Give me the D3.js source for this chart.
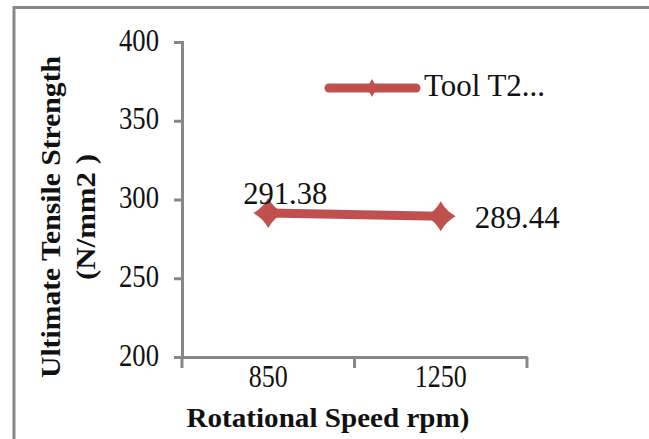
<!DOCTYPE html>
<html>
<head>
<meta charset="utf-8">
<script src="https://cdn.jsdelivr.net/npm/d3@7"></script>
<style>
  html, body { margin: 0; padding: 0; background: #fff; }
  svg { display: block; }
  svg text { font-family: "Liberation Serif", "Times New Roman", Times, "Tinos", "DejaVu Serif", "Noto Serif", serif !important; fill: #111; }
</style>
</head>
<body>
<svg id="chart" width="649" height="439"></svg>
<script>
// ---- data ----
const categories = ["850", "1250"];
const seriesName = "Tool T2...";
const seriesValues = [291.38, 289.44];
const yTicks = [200, 250, 300, 350, 400];
const xTitle = "Rotational Speed rpm)";
const yTitleLines = ["Ultimate Tensile Strength", "(N/mm2 )"];

// ---- layout ----
const W = 649, H = 439;
const plot = { left: 182, right: 527, top: 42, bottom: 357 };
const axisColor = "#878787";
const seriesColor = "#c0504d";

const svg = d3.select("#chart");

// outer frame (runs off the right and bottom edges)
svg.append("path")
  .attr("d", `M14,${H + 5} L14,7.5 L${W + 5},7.5`)
  .attr("fill", "none")
  .attr("stroke", axisColor)
  .attr("stroke-width", 3);

const x = d3.scaleBand().domain(categories).range([plot.left, plot.right]).padding(0);
const y = d3.scaleLinear().domain([200, 400]).range([plot.bottom, plot.top]);

// y axis
const yAxis = svg.append("g")
  .attr("transform", `translate(${plot.left},0)`)
  .call(d3.axisLeft(y).tickValues(yTicks).tickSize(8).tickPadding(15).tickFormat(d3.format("d")));
yAxis.attr("font-family", null);
yAxis.select(".domain").attr("stroke", axisColor).attr("stroke-width", 3);
yAxis.selectAll(".tick line").attr("stroke", axisColor).attr("stroke-width", 3);
yAxis.selectAll(".tick text")
  .attr("font-size", 31)
  .attr("fill", "#111")
  .attr("dy", "0.26em")
  .attr("textLength", 40)
  .attr("lengthAdjust", "spacingAndGlyphs");

// x axis
const xAxis = svg.append("g")
  .attr("transform", `translate(0,${plot.bottom})`)
  .call(d3.axisBottom(x).tickSize(0).tickPadding(8));
xAxis.attr("font-family", null);
xAxis.select(".domain").attr("stroke", axisColor).attr("stroke-width", 3);
xAxis.selectAll(".tick text")
  .attr("font-size", 31)
  .attr("fill", "#111")
  .attr("dy", "0.70em")
  .attr("textLength", d => d.length * 13)
  .attr("lengthAdjust", "spacingAndGlyphs");
// category boundary tick marks
const bounds = categories.map(c => x(c)).concat([x(categories[categories.length - 1]) + x.bandwidth()]);
xAxis.selectAll(".bound")
  .data(bounds)
  .enter().append("line")
  .attr("class", "bound")
  .attr("x1", d => d).attr("x2", d => d)
  .attr("y1", 0).attr("y2", 11)
  .attr("stroke", axisColor).attr("stroke-width", 3);

// series line
const pts = categories.map((c, i) => [x(c) + x.bandwidth() / 2, y(seriesValues[i])]);
svg.append("path")
  .attr("d", d3.line()(pts))
  .attr("fill", "none")
  .attr("stroke", seriesColor)
  .attr("stroke-width", 9);

// diamond marker with slightly concave sides
function diamond(cx, cy, rx, ry) {
  const k = 0.35;
  return `M${cx},${cy - ry} Q${cx + rx * k},${cy - ry * k} ${cx + rx},${cy}` +
         ` Q${cx + rx * k},${cy + ry * k} ${cx},${cy + ry}` +
         ` Q${cx - rx * k},${cy + ry * k} ${cx - rx},${cy}` +
         ` Q${cx - rx * k},${cy - ry * k} ${cx},${cy - ry} Z`;
}
svg.selectAll(".marker")
  .data(pts)
  .enter().append("path")
  .attr("class", "marker")
  .attr("d", d => diamond(d[0], d[1], 15, 15))
  .attr("fill", seriesColor);

// data labels
svg.append("text")
  .attr("x", pts[0][0] + 17).attr("y", pts[0][1] - 9)
  .attr("text-anchor", "middle")
  .attr("font-size", 31)
  .attr("textLength", 84)
  .attr("lengthAdjust", "spacingAndGlyphs")
  .text(seriesValues[0].toFixed(2));
svg.append("text")
  .attr("x", pts[1][0] + 34).attr("y", pts[1][1] + 12)
  .attr("text-anchor", "start")
  .attr("font-size", 31)
  .attr("textLength", 85)
  .attr("lengthAdjust", "spacingAndGlyphs")
  .text(seriesValues[1].toFixed(2));

// legend
const lg = svg.append("g");
lg.append("line")
  .attr("x1", 329).attr("x2", 416).attr("y1", 88).attr("y2", 88)
  .attr("stroke", seriesColor).attr("stroke-width", 9).attr("stroke-linecap", "round");
lg.append("path").attr("d", diamond(372, 88, 7, 9)).attr("fill", seriesColor);
lg.append("text")
  .attr("x", 424).attr("y", 96)
  .attr("font-size", 31)
  .attr("textLength", 121)
  .attr("lengthAdjust", "spacingAndGlyphs")
  .text(seriesName);

// axis titles
svg.append("text")
  .attr("x", 328).attr("y", 427)
  .attr("text-anchor", "middle")
  .attr("font-size", 28)
  .attr("font-weight", "bold")
  .attr("textLength", 283)
  .attr("lengthAdjust", "spacingAndGlyphs")
  .text(xTitle);

const yt = svg.append("g").attr("transform", "translate(0,217) rotate(-90)");
yt.append("text")
  .attr("x", 0).attr("y", 60)
  .attr("text-anchor", "middle")
  .attr("font-size", 27)
  .attr("font-weight", "bold")
  .attr("textLength", 322)
  .attr("lengthAdjust", "spacingAndGlyphs")
  .text(yTitleLines[0]);
yt.append("text")
  .attr("x", 0).attr("y", 95)
  .attr("text-anchor", "middle")
  .attr("font-size", 27)
  .attr("font-weight", "bold")
  .attr("textLength", 126)
  .attr("lengthAdjust", "spacingAndGlyphs")
  .text(yTitleLines[1]);
</script>
</body>
</html>
